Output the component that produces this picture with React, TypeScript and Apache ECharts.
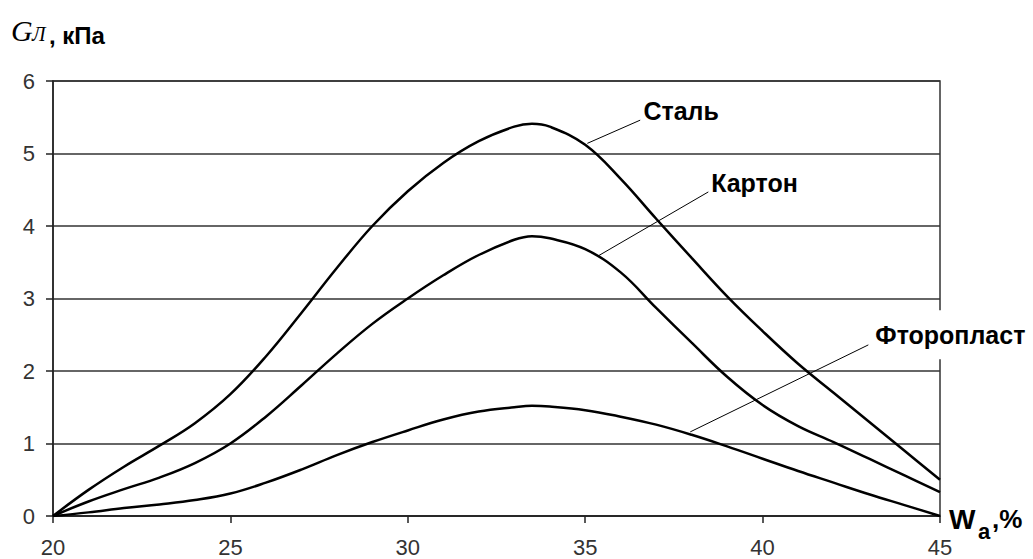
import React, { useEffect, useRef } from "react";
import * as echarts from "echarts";

// Moisture W_a, % (x positions of the read points)
const xValues = [20, 21, 22, 23, 24, 25, 26, 27, 28, 29, 30, 31, 32, 33, 33.5, 34, 35, 36, 37, 38, 39, 40, 41, 42, 43, 44, 45];
// G_Л, kPa
const steelValues = [0, 0.36, 0.68, 0.97, 1.28, 1.68, 2.2, 2.8, 3.42, 4.0, 4.48, 4.87, 5.17, 5.37, 5.41, 5.37, 5.12, 4.65, 4.1, 3.56, 3.03, 2.55, 2.1, 1.7, 1.3, 0.9, 0.5];
const cardboardValues = [0, 0.2, 0.37, 0.53, 0.73, 1.0, 1.37, 1.8, 2.24, 2.65, 3.0, 3.32, 3.6, 3.81, 3.86, 3.83, 3.68, 3.36, 2.87, 2.39, 1.92, 1.53, 1.24, 1.02, 0.79, 0.56, 0.33];
const ptfeValues = [0, 0.05, 0.11, 0.16, 0.22, 0.31, 0.46, 0.64, 0.84, 1.02, 1.18, 1.33, 1.44, 1.5, 1.52, 1.51, 1.46, 1.37, 1.26, 1.12, 0.96, 0.79, 0.62, 0.46, 0.3, 0.15, 0];

const seriesNames = ["Сталь", "Картон", "Фторопласт"];
const seriesValues = [steelValues, cardboardValues, ptfeValues];

// Annotation leader lines (data coordinates): start on curve, end near label
const leaderStart = [[35.06, 5.14], [35.34, 3.58], [37.96, 1.16]];
const leaderEnd = [[36.55, 5.46], [38.47, 4.47], [42.98, 2.36]];
const labelPos = [[36.64, 5.58], [38.55, 4.6], [43.12, 2.5]];

const xTicks = { min: 20, max: 45, interval: 5 };
const yTicks = { min: 0, max: 6, interval: 1 };

const SANS = "'Liberation Sans', Arial, sans-serif";
const SERIF = "'Liberation Serif', 'Times New Roman', serif";

export default function App() {
  const ref = useRef<HTMLDivElement>(null);

  useEffect(() => {
    document.body.style.margin = "0";
    const chart = echarts.init(ref.current!, null, { renderer: "svg" });
    const option: any = {
      animation: false,
      backgroundColor: "#fff",
      grid: {
        left: 53,
        right: 93,
        top: 81,
        bottom: 43,
        show: true,
        borderColor: "#333",
        borderWidth: 1.5,
      },
      xAxis: {
        type: "value",
        min: xTicks.min,
        max: xTicks.max,
        interval: xTicks.interval,
        axisLine: { show: true, lineStyle: { color: "#222", width: 1.5 } },
        axisTick: { show: true, length: 7, lineStyle: { color: "#222", width: 1.5 } },
        splitLine: { show: false },
        axisLabel: { fontSize: 22, color: "#333", fontFamily: SANS, margin: 20 },
      },
      yAxis: {
        type: "value",
        min: yTicks.min,
        max: yTicks.max,
        interval: yTicks.interval,
        axisLine: { show: true, lineStyle: { color: "#222", width: 1.5 } },
        axisTick: { show: true, length: 7, lineStyle: { color: "#222", width: 1.5 } },
        splitLine: { show: true, lineStyle: { color: "#333", width: 1.5 } },
        axisLabel: { fontSize: 22, color: "#333", fontFamily: SANS, margin: 18 },
      },
      series: seriesNames.map((name, i) => ({
        name,
        type: "line",
        smooth: 0.4,
        symbol: "none",
        data: xValues.map((x, j) => [x, seriesValues[i][j]]),
        lineStyle: { color: "#000", width: 2.5 },
        z: 3,
      })),
    };
    chart.setOption(option);

    const toPx = (p: number[]) => chart.convertToPixel({ gridIndex: 0 }, p) as number[];
    const graphics: any[] = [];
    seriesNames.forEach((name, i) => {
      const a = toPx(leaderStart[i]);
      const b = toPx(leaderEnd[i]);
      const t = toPx(labelPos[i]);
      graphics.push({
        type: "line",
        shape: { x1: a[0], y1: a[1], x2: b[0], y2: b[1] },
        style: { stroke: "#000", lineWidth: 1 },
        z: 10,
      });
      graphics.push({
        type: "text",
        x: t[0],
        y: t[1],
        z: 11,
        style: {
          text: name,
          fill: "#000",
          font: `bold 25px ${SANS}`,
          align: "left",
          verticalAlign: "middle",
          backgroundColor: i === 2 ? "#fff" : "transparent",
          padding: i === 2 ? [12, 2, 12, 2] : 0,
        },
      });
    });

    // Y-axis title: G_Л, кПа
    graphics.push(
      { type: "text", x: 11, y: 45, style: { text: "G", fill: "#000", font: `italic 30px ${SERIF}`, align: "left", verticalAlign: "bottom" } },
      { type: "text", x: 32, y: 44, style: { text: "Л", fill: "#000", font: `italic 20px ${SERIF}`, align: "left", verticalAlign: "bottom" } },
      { type: "text", x: 49, y: 47, style: { text: ", кПа", fill: "#000", font: `bold 24px ${SANS}`, align: "left", verticalAlign: "bottom" } },
    );
    // X-axis title: W_a, %
    graphics.push(
      { type: "text", x: 949, y: 519, style: { text: "W", fill: "#000", font: `bold 28px ${SANS}`, align: "left", verticalAlign: "middle" } },
      { type: "text", x: 978, y: 531, style: { text: "a", fill: "#000", font: `bold 22px ${SANS}`, align: "left", verticalAlign: "middle" } },
      { type: "text", x: 992, y: 519, style: { text: ",%", fill: "#000", font: `bold 26px ${SANS}`, align: "left", verticalAlign: "middle" } },
    );

    chart.setOption({ graphic: graphics });
    return () => chart.dispose();
  }, []);

  return <div ref={ref} style={{ position: "fixed", left: 0, top: 0, width: 1033, height: 559 }} />;
}
